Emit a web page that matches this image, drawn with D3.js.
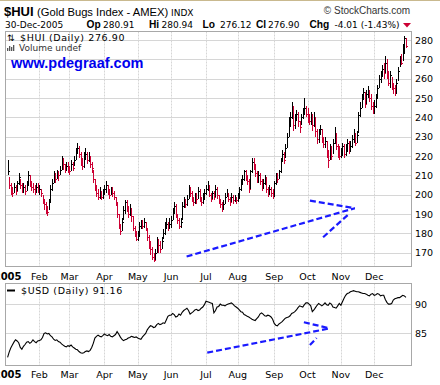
<!DOCTYPE html>
<html>
<head>
<meta charset="utf-8">
<script src="https://cdn.jsdelivr.net/npm/d3@7/dist/d3.min.js"></script>
<style>
body { margin: 0; background: #fff; }
svg { display: block; font-family: "DejaVu Sans", Verdana, sans-serif; }
</style>
</head>
<body>
<svg id="chart" width="440" height="385"></svg>
<script>
// $HUI daily bars, 2005 (one value per trading day)
var hui_close = [
  212,205,203,201,204,202,206,209,205,203,204,202,205,210,207,204,203,202,204,203,
  203,201,197,195,192,191,196,203,206,210,208,211,210,213,218,216,213,215,214,
  212,216,214,218,222,224,221,218,215,219,221,218,220,216,214,208,205,201,199,202,199,201,
  203,205,201,200,203,201,199,196,190,184,181,186,192,196,193,190,193,189,183,180,177,
  179,184,186,184,186,183,178,175,172,168,166,170,175,174,172,176,180,183,185,183,185,
  187,191,194,190,187,184,186,194,197,195,198,203,201,199,196,200,198,202,198,196,199,201,
  203,205,200,198,201,199,203,200,197,195,193,195,199,201,198,196,199,197,198,197,
  199,203,206,208,212,209,207,203,212,217,215,211,208,210,207,204,206,208,203,201,203,201,200,
  206,210,208,212,218,221,218,224,230,238,240,245,236,240,242,238,235,240,243,245,242,
  240,238,241,236,240,233,229,232,234,229,226,228,221,218,224,220,227,231,225,222,220,
  222,225,221,224,227,223,225,229,232,227,231,241,245,250,253,247,252,254,250,246,244,
  246,250,255,260,262,265,263,268,262,258,262,257,255,253,258,264,270,268,275,280.91,276.9
];
var hui_high = [
  218,209,206,204,206,205,207,211,208,206,206,205,207,212,210,207,206,205,206,206,
  205,203,200,198,196,194,198,205,208,212,211,213,212,215,220,219,216,217,217,
  215,218,217,220,224,227,225,222,219,222,224,222,222,220,217,213,208,205,203,204,202,203,
  205,207,205,203,204,204,202,199,196,190,185,188,194,197,197,194,195,193,189,184,181,
  181,186,187,187,188,186,183,179,176,173,170,172,178,177,176,178,182,186,188,186,188,
  189,193,196,195,190,188,188,196,199,198,200,205,204,202,199,201,201,204,203,199,201,203,
  205,207,205,201,202,202,205,204,200,198,196,197,201,203,201,199,201,200,200,199,
  201,204,208,210,213,213,210,208,213,219,219,216,212,212,211,208,208,210,209,204,205,204,203,
  207,211,211,213,219,223,222,226,232,240,243,248,246,242,244,243,238,242,245,250,246,
  245,242,243,242,243,240,234,234,236,234,230,230,228,223,226,225,229,235,232,226,225,
  224,227,226,226,229,228,228,231,234,232,233,243,248,252,255,253,254,256,254,252,248,
  249,252,257,262,264,267,268,272,270,264,264,261,258,257,260,266,272,273,278,282,280.94
];
var hui_low = [
  210,203,200,199,201,200,202,205,203,201,201,200,202,205,204,202,201,200,201,201,
  200,199,195,192,190,189,192,196,202,206,206,208,207,210,213,213,211,212,211,
  210,212,212,215,218,221,219,215,213,214,218,216,217,214,211,206,202,199,197,198,197,198,
  200,201,200,198,200,199,197,194,188,182,179,181,187,190,191,188,189,186,181,178,176,
  176,178,182,182,183,181,176,172,169,166,165,166,170,170,170,172,177,179,182,181,182,
  183,187,190,188,185,182,183,187,193,193,194,198,199,196,194,195,195,198,196,194,195,197,
  200,202,199,196,198,197,199,198,195,193,191,192,195,199,196,194,196,195,196,195,
  196,198,202,205,207,207,205,201,203,211,213,209,206,206,205,202,203,205,201,199,200,199,198,
  199,205,206,208,211,217,216,219,224,230,235,239,233,234,238,235,232,236,239,241,240,
  237,236,236,233,235,230,226,227,231,227,224,224,219,214,218,218,221,226,223,219,218,
  219,220,219,220,222,221,222,224,227,225,227,232,240,245,249,245,247,250,248,244,242,
  242,245,250,255,258,261,260,263,260,256,255,254,252,251,252,259,266,267,269,273,276.12
];
// $USD daily close
var usd_close = [
  80.9,81.8,82.5,83.0,83.5,83.9,83.7,83.4,82.6,82.3,82.8,83.1,83.5,83.6,83.3,83.5,83.9,83.6,83.4,83.7,
  83.8,83.9,84.3,85.0,85.1,84.9,85.0,84.6,84.4,84.0,83.8,83.9,83.6,83.5,83.2,83.0,82.8,82.7,82.9,
  82.8,83.0,82.7,82.5,82.3,82.2,81.9,81.7,81.6,81.7,81.9,82.0,81.9,82.1,82.6,83.3,84.2,84.5,84.7,84.5,84.4,84.6,
  84.9,84.7,84.6,84.8,84.5,84.4,84.6,84.8,85.3,84.9,84.4,84.0,83.75,83.9,84.0,84.2,84.3,84.5,84.4,84.3,84.4,
  84.2,84.1,84.0,84.4,84.7,85.0,85.6,86.0,86.3,86.2,86.0,86.1,86.5,86.7,86.5,86.6,86.8,86.7,87.3,87.9,88.1,
  88.1,88.4,88.2,87.8,87.9,88.3,88.1,88.6,88.9,89.1,89.3,88.9,88.3,88.5,88.7,89.0,89.1,88.9,89.0,89.3,89.5,89.9,
  90.5,90.4,90.3,90.2,90.1,88.5,88.9,89.5,89.6,90.0,89.8,89.8,89.7,89.9,90.0,90.1,90.2,90.0,89.7,89.5,
  89.3,89.0,88.7,88.6,88.2,88.1,87.9,87.8,87.6,87.4,87.3,87.2,87.5,87.8,88.3,88.5,88.3,88.0,87.95,88.1,88.0,87.8,87.4,
  86.7,86.4,86.3,86.6,86.8,87.0,87.3,87.6,87.7,87.8,88.0,88.4,88.5,88.7,89.0,89.4,89.7,89.6,89.5,89.9,90.2,
  90.2,90.0,89.7,88.7,89.0,89.4,89.8,90.1,89.9,89.7,89.9,90.2,89.9,89.8,90.2,90.0,89.5,89.4,89.3,89.7,90.1,
  89.8,90.4,91.0,91.5,91.8,91.9,92.1,92.2,92.3,92.2,92.1,92.1,92.0,91.9,91.8,91.8,91.7,91.5,91.4,91.7,91.8,
  91.5,91.6,91.8,91.7,91.4,91.5,91.5,90.8,90.3,90.0,90.0,90.1,90.7,90.9,91.0,91.1,91.1,91.3,91.5,91.4,91.16
];
var holidays = ["2005-01-17","2005-02-21","2005-03-25","2005-05-30","2005-07-04","2005-09-05","2005-11-24","2005-12-26"];
var month_labels = ["2005","Feb","Mar","Apr","May","Jun","Jul","Aug","Sep","Oct","Nov","Dec"];
var hui_ticks = [170,180,190,200,210,220,230,240,250,260,270,280];
var usd_ticks = [85,90];
// hand drawn arrows, [trading day, value] pairs
var hui_arrows = [
  [[112.8,168.0],[218.8,193.0]],
  [[190.5,196.9],[218.8,193.0]],
  [[198.8,178.0],[215.6,190.4]]
];
var usd_arrows = [
  [[125.8,81.7],[203,85.86]],
  [[186.7,86.9],[203,85.86]],
  [[190.5,83.0],[194.7,84.2]]
];

var fmt = d3.timeFormat("%Y-%m-%d");
var days = d3.timeDay.range(new Date(2005,0,3), new Date(2005,11,31)).filter(function(d){
  var w = d.getDay();
  return w > 0 && w < 6 && holidays.indexOf(fmt(d)) < 0;
});
var monthStart = [];
days.forEach(function(d, i){
  if (i == 0 || d.getMonth() != days[i-1].getMonth()) monthStart.push(i);
});

var svg = d3.select("#chart");
var left = 5.5, right = 411.5;
var up = {top: 31.5, bottom: 266.5};
var lo = {top: 283.5, bottom: 365.5};

var x = d3.scaleLinear().domain([-1, 254.5]).range([6, 411.5]);
var yU = d3.scaleLinear().domain([163.1, 284.7]).range([266, 31]);
var yL = d3.scaleLinear().domain([79.6, 93.6]).range([365, 283]);

svg.append("line").attr("x1",0).attr("x2",440).attr("y1",0.5).attr("y2",0.5)
  .attr("stroke","#c9b98f");

// header
var head = svg.append("g").attr("fill","#000");
head.append("text").attr("x",4).attr("y",16).attr("font-family","Liberation Sans, Arial")
  .attr("font-weight","bold").attr("font-size",13).text("$HUI");
head.append("text").attr("x",37).attr("y",16).attr("font-family","Liberation Sans, Arial")
  .attr("font-size",11.2).text("(Gold Bugs Index - AMEX)");
head.append("text").attr("x",171).attr("y",16).attr("font-size",9).text("INDX");
head.append("text").attr("y",14).attr("font-size",10).attr("fill","#333")
  .attr("font-family","Liberation Sans, Arial").attr("text-anchor","middle").attr("x",367)
  .text("\u00a9 StockCharts.com");
head.append("text").attr("x",5).attr("y",27.5).attr("font-size",9).text("30-Dec-2005");
var quote = [["Op",86.5,"280.91",103],["Hi",149,"280.94",161.5],["Lo",202.5,"276.12",220],
             ["Cl",256,"276.90",268],["Chg",309.5,"-4.01 (-1.43%)",334.5]];
quote.forEach(function(q){
  head.append("text").attr("x",q[1]).attr("y",27.5).attr("font-family","Liberation Sans, Arial")
    .attr("font-weight","bold").attr("font-size",10.2).text(q[0]);
  head.append("text").attr("x",q[3]).attr("y",27.5).attr("font-size",9).text(q[2]);
});
svg.append("path").attr("d","M403,23L411,23L407,27.5Z").attr("fill","#cc0033");

function panel(top, bottom, y, ticks) {
  var g = svg.append("g");
  g.append("rect").attr("x",left).attr("y",top).attr("width",right-left).attr("height",bottom-top)
    .attr("fill","#fff");
  g.selectAll(".hg").data(ticks).enter().append("line")
    .attr("x1",left).attr("x2",right)
    .attr("y1",function(d){ return Math.round(y(d))+0.5; })
    .attr("y2",function(d){ return Math.round(y(d))+0.5; })
    .attr("stroke","#d6d6d6");
  g.selectAll(".vg").data(monthStart.slice(1)).enter().append("line")
    .attr("x1",function(i){ return Math.round(x(i))+0.5; })
    .attr("x2",function(i){ return Math.round(x(i))+0.5; })
    .attr("y1",top).attr("y2",bottom)
    .attr("stroke","#d6d6d6").attr("stroke-dasharray","2,1");
  return g;
}
var gU = panel(up.top, up.bottom, yU, hui_ticks);
var gL = panel(lo.top, lo.bottom, yL, usd_ticks);

// watermark and legends
svg.append("text").attr("x",11).attr("y",68).attr("font-family","Liberation Sans, Arial")
  .attr("font-weight","bold").attr("font-size",14.5).attr("fill","#0000ee").text("www.pdegraaf.com");
svg.append("text").attr("x",7).attr("y",41).attr("font-size",9).text("\u21c5");
svg.append("text").attr("x",20).attr("y",41).attr("font-size",9.5).attr("letter-spacing",0.6)
  .text("$HUI (Daily) 276.90");
[[7,3],[9,5],[11,4],[13,6]].forEach(function(b){
  svg.append("rect").attr("x",b[0]).attr("y",51-b[1]).attr("width",1.3).attr("height",b[1]).attr("fill","#555");
});
svg.append("text").attr("x",19).attr("y",51).attr("font-size",9).attr("fill","#333").text("Volume undef");
svg.append("line").attr("x1",7).attr("x2",15).attr("y1",290.5).attr("y2",290.5)
  .attr("stroke","#000").attr("stroke-width",2);
svg.append("text").attr("x",21).attr("y",294).attr("font-size",9.5).attr("letter-spacing",0.6)
  .text("$USD (Daily) 91.16");

// HLC bars
var bars = gU.append("g").attr("shape-rendering","crispEdges");
hui_close.forEach(function(c, i){
  var col = (i > 0 && c < hui_close[i-1]) ? "#cc0033" : "#000";
  var px = Math.round(x(i)) + 0.5;
  bars.append("line").attr("x1",px).attr("x2",px)
    .attr("y1",yU(hui_high[i])).attr("y2",yU(hui_low[i])).attr("stroke",col);
  bars.append("line").attr("x1",px).attr("x2",px+1.5)
    .attr("y1",Math.round(yU(c))+0.5).attr("y2",Math.round(yU(c))+0.5).attr("stroke",col);
});

// USD line
var line = d3.line().x(function(d, i){ return x(i); }).y(function(d){ return yL(d); });
gL.append("path").datum(usd_close).attr("d",line).attr("fill","none")
  .attr("stroke","#000").attr("stroke-width",1.1);

// arrows
function arrows(g, list, y) {
  g.selectAll(".arrow").data(list).enter().append("line")
    .attr("x1",function(d){ return x(d[0][0]); }).attr("y1",function(d){ return y(d[0][1]); })
    .attr("x2",function(d){ return x(d[1][0]); }).attr("y2",function(d){ return y(d[1][1]); })
    .attr("stroke","#1a1aff").attr("stroke-width",2.2).attr("stroke-dasharray","6,3");
}
arrows(gU, hui_arrows, yU);
arrows(gL, usd_arrows, yL);

// frames
[up, lo].forEach(function(p){
  svg.append("rect").attr("x",left).attr("y",p.top).attr("width",right-left).attr("height",p.bottom-p.top)
    .attr("fill","none").attr("stroke","#a8a8a8");
});

// right axes
function rightAxis(y, ticks) {
  var g = svg.append("g");
  g.selectAll("text").data(ticks).enter().append("text")
    .attr("x",415).attr("y",function(d){ return y(d)+3.5; })
    .attr("font-size",9.5).attr("fill","#000").text(function(d){ return d; });
}
rightAxis(yU, hui_ticks);
rightAxis(yL, usd_ticks);

// month labels under both panels
function monthAxis(yb) {
  var g = svg.append("g");
  g.selectAll("text").data(monthStart).enter().append("text")
    .attr("x",function(i){ return x(i); }).attr("y",yb)
    .attr("text-anchor","middle")
    .attr("font-size",function(i, k){ return k == 0 ? 10 : 9.5; })
    .attr("font-weight",function(i, k){ return k == 0 ? "bold" : "normal"; })
    .text(function(i, k){ return month_labels[k]; });
}
monthAxis(279.5);
monthAxis(377.5);
</script>
</body>
</html>
